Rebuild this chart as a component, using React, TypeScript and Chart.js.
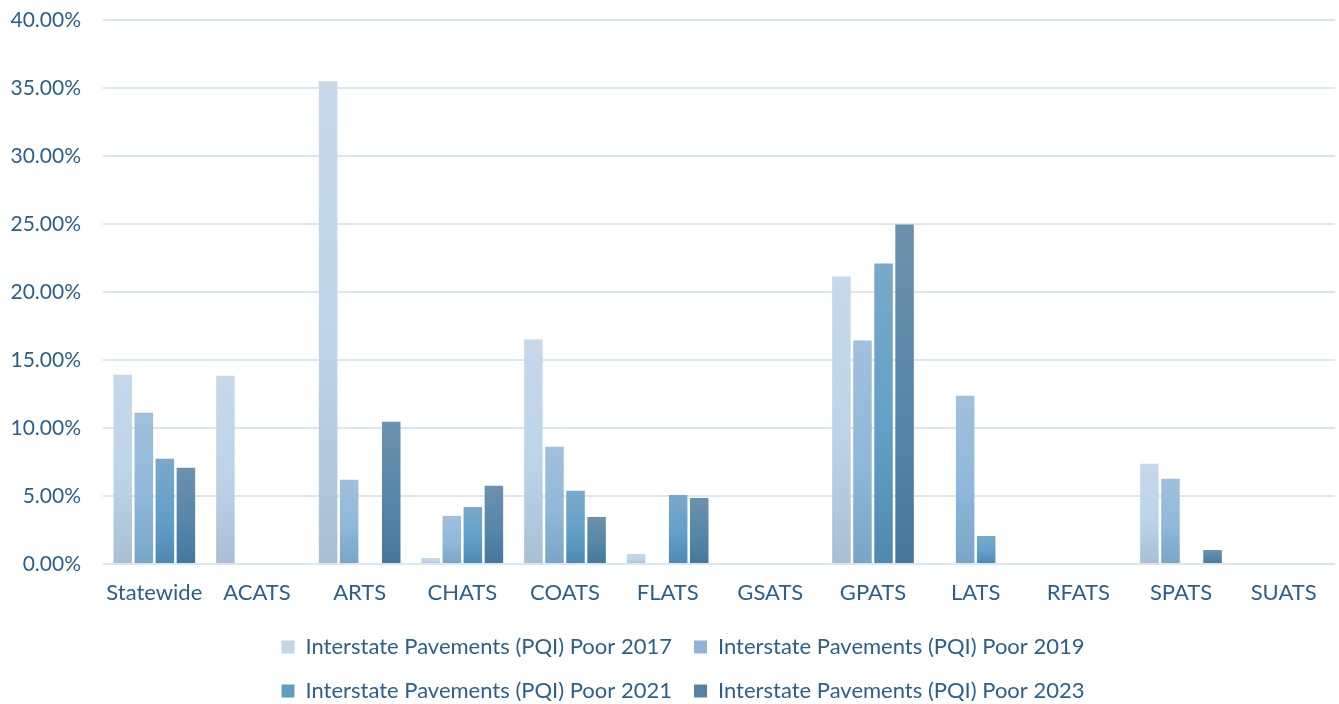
import React, { useEffect, useRef } from "react";
import { Chart, registerables } from "chart.js";

Chart.register(...registerables);

const categories = ["Statewide", "ACATS", "ARTS", "CHATS", "COATS", "FLATS", "GSATS", "GPATS", "LATS", "RFATS", "SPATS", "SUATS"];
const poor2017 = [13.92, 13.85, 35.5, 0.44, 16.5, 0.74, 0, 21.14, 0, 0, 7.37, 0];
const poor2019 = [11.12, 0, 6.19, 3.54, 8.62, 0, 0, 16.43, 12.38, 0, 6.26, 0];
const poor2021 = [7.73, 0, 0, 4.2, 5.38, 5.08, 0, 22.1, 2.06, 0, 0, 0];
const poor2023 = [7.07, 0, 10.46, 5.75, 3.46, 4.86, 0, 24.97, 0, 0, 1.03, 0];
const seriesLabels = [
  "Interstate Pavements (PQI) Poor 2017",
  "Interstate Pavements (PQI) Poor 2019",
  "Interstate Pavements (PQI) Poor 2021",
  "Interstate Pavements (PQI) Poor 2023",
];
const yTicks = [0, 5, 10, 15, 20, 25, 30, 35, 40];

const gradTop = ["#c6d8e9", "#a1c0dc", "#7aa9c9", "#6c91ad"];
const gradMid = ["#bdd4e8", "#8fb8da", "#62a0c8", "#5686a9"];
const gradBottom = ["#a9bed2", "#78a5c7", "#4e88b1", "#46769a"];
const legendColors = ["#c3d6e8", "#90b6d7", "#5f9cc4", "#5882a3"];

const TEXT = "#2c5f8a";
const FONT = "Lato, 'Open Sans', sans-serif";
const LEGEND_CENTER_X = 683;

const legendShift = {
  id: "legendShift",
  afterLayout(chart: any) {
    const lg = chart.legend;
    if (!lg) return;
    const w = lg.right - lg.left;
    lg.left = LEGEND_CENTER_X - w / 2;
    lg.right = LEGEND_CENTER_X + w / 2;
  },
};

export default function App() {
  const ref = useRef<HTMLCanvasElement | null>(null);
  useEffect(() => {
    if (!ref.current) return;
    const all = [poor2017, poor2019, poor2021, poor2023];
    const chart = new Chart(ref.current, {
      type: "bar",
      plugins: [legendShift],
      data: {
        labels: categories,
        datasets: all.map((d, i) => ({
          label: seriesLabels[i],
          data: d,
          backgroundColor: (ctx: any) => {
            const c = ctx.chart;
            const ys = c.scales && c.scales.y;
            if (!ys || !c.chartArea || ctx.raw === undefined) return legendColors[i];
            const top = ys.getPixelForValue(ctx.raw);
            const bottom = ys.getPixelForValue(0);
            if (!isFinite(top) || !isFinite(bottom) || bottom - top < 0.5) return gradTop[i];
            const g = c.ctx.createLinearGradient(0, top, 0, bottom);
            g.addColorStop(0, gradTop[i]);
            g.addColorStop(0.55, gradMid[i]);
            g.addColorStop(1, gradBottom[i]);
            return g;
          },
          borderWidth: 0,
          categoryPercentage: 0.82,
          barPercentage: 0.88,
        })),
      },
      options: {
        animation: false,
        responsive: true,
        maintainAspectRatio: false,
        layout: { padding: { left: 10, right: 4, top: 0, bottom: -8 } },
        scales: {
          x: {
            grid: { display: false },
            border: { display: false },
            ticks: {
              color: TEXT,
              font: { family: FONT, size: 22 },
              padding: 8,
              maxRotation: 0,
              minRotation: 0,
              autoSkip: false,
            },
            afterFit: (scale: any) => {
              scale.height = 50;
              scale.paddingLeft = 0;
              scale.paddingRight = 0;
            },
          },
          y: {
            min: 0,
            max: 40,
            afterBuildTicks: (axis: any) => {
              axis.ticks = yTicks.map((v) => ({ value: v }));
            },
            afterFit: (scale: any) => {
              scale.width = 93;
              scale.paddingTop = 20;
            },
            border: { display: false },
            grid: { color: "#d8e7f4", lineWidth: 2, drawTicks: false },
            ticks: {
              color: TEXT,
              font: { family: FONT, size: 21 },
              padding: 22,
              callback: (v: any) => Number(v).toFixed(2) + "%",
            },
          },
        },
        plugins: {
          tooltip: { enabled: false },
          legend: {
            position: "bottom",
            fullSize: false,
            labels: {
              color: TEXT,
              font: { family: FONT, size: 22 },
              boxWidth: 13,
              boxHeight: 13,
              padding: 22,
              generateLabels: () =>
                seriesLabels.map((t, i) => ({
                  text: t,
                  fillStyle: legendColors[i],
                  strokeStyle: legendColors[i],
                  lineWidth: 0,
                  fontColor: TEXT,
                  datasetIndex: i,
                  hidden: false,
                })),
            },
          },
        },
      },
    });
    return () => chart.destroy();
  }, []);
  return (
    <div style={{ position: "absolute", left: 0, top: 0, width: 1339, height: 704, background: "#fff" }}>
      <canvas ref={ref} />
    </div>
  );
}
